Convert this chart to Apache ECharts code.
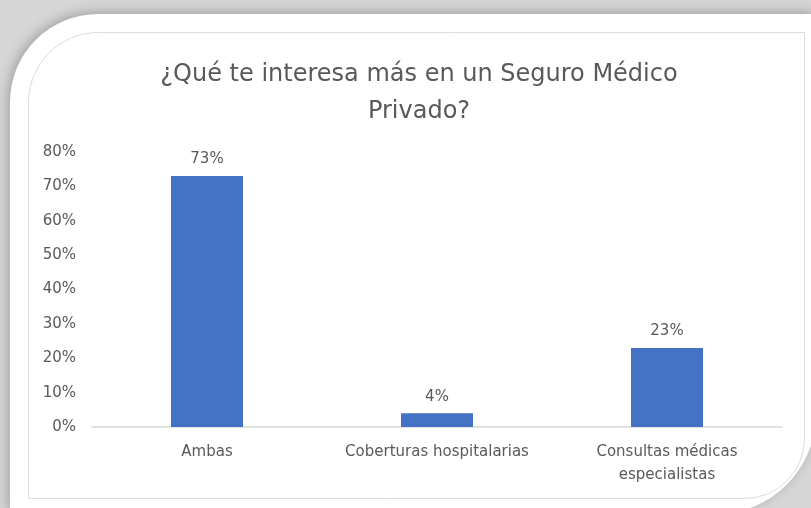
<!DOCTYPE html>
<html>
<head>
<meta charset="utf-8">
<script src="https://cdn.jsdelivr.net/npm/echarts@6/dist/echarts.min.js"></script>
<style>
  html, body { margin: 0; padding: 0; background: #d9d9d9; }
  #chart { width: 811px; height: 508px; }
</style>
</head>
<body>
<div id="chart"></div>
<script>
// Survey results: share of answers per option (percent)
const chartTitle = '¿Qué te interesa más en un Seguro Médico\nPrivado?';
const categories = ['Ambas', 'Coberturas hospitalarias', 'Consultas médicas\nespecialistas'];
const shares = [73, 4, 23];
const yMin = 0;
const yMax = 80;
const yStep = 10;

const FONT = '"DejaVu Sans", "Noto Sans", sans-serif';
const TEXT = '#595959';

const chart = echarts.init(document.getElementById('chart'), null, { renderer: 'canvas' });

chart.setOption({
  backgroundColor: '#d6d6d6',
  animation: false,
  graphic: [
    {
      // white card with rounded top-left / bottom-right corners and a soft shadow
      type: 'rect',
      z: -20,
      silent: true,
      shape: { x: 10, y: 14, width: 806, height: 500, r: [88, 0, 100, 0] },
      style: {
        fill: '#ffffff',
        shadowBlur: 12,
        shadowColor: 'rgba(0,0,0,0.25)',
        shadowOffsetX: -2,
        shadowOffsetY: -2
      }
    },
    {
      // thin chart-area border inside the card
      type: 'rect',
      z: -19,
      silent: true,
      shape: { x: 28.5, y: 32.5, width: 776, height: 466, r: [70, 0, 60, 0] },
      style: { fill: '#ffffff', stroke: '#dcdcdc', lineWidth: 1 }
    }
  ],
  title: {
    text: chartTitle,
    left: 414,
    top: 51,
    textAlign: 'center',
    textStyle: {
      fontFamily: FONT,
      fontSize: 24,
      fontWeight: 'normal',
      color: TEXT,
      lineHeight: 37
    }
  },
  grid: { left: 92, right: 29, top: 152, bottom: 81, containLabel: false },
  xAxis: {
    type: 'category',
    data: categories,
    axisLine: { lineStyle: { color: '#d9d9d9', width: 1.5 } },
    axisTick: { show: false },
    axisLabel: {
      fontFamily: FONT,
      fontSize: 15,
      color: TEXT,
      margin: 14,
      lineHeight: 23,
      interval: 0
    }
  },
  yAxis: {
    type: 'value',
    min: yMin,
    max: yMax,
    interval: yStep,
    splitLine: { show: false },
    axisLine: { show: false },
    axisTick: { show: false },
    axisLabel: {
      fontFamily: FONT,
      fontSize: 15,
      color: TEXT,
      margin: 16,
      formatter: '{value}%'
    }
  },
  series: [{
    type: 'bar',
    data: shares,
    barWidth: 72,
    itemStyle: { color: '#4472c4' },
    label: {
      show: true,
      position: 'top',
      distance: 9,
      fontFamily: FONT,
      fontSize: 15,
      color: TEXT,
      formatter: '{c}%'
    }
  }]
});
</script>
</body>
</html>
